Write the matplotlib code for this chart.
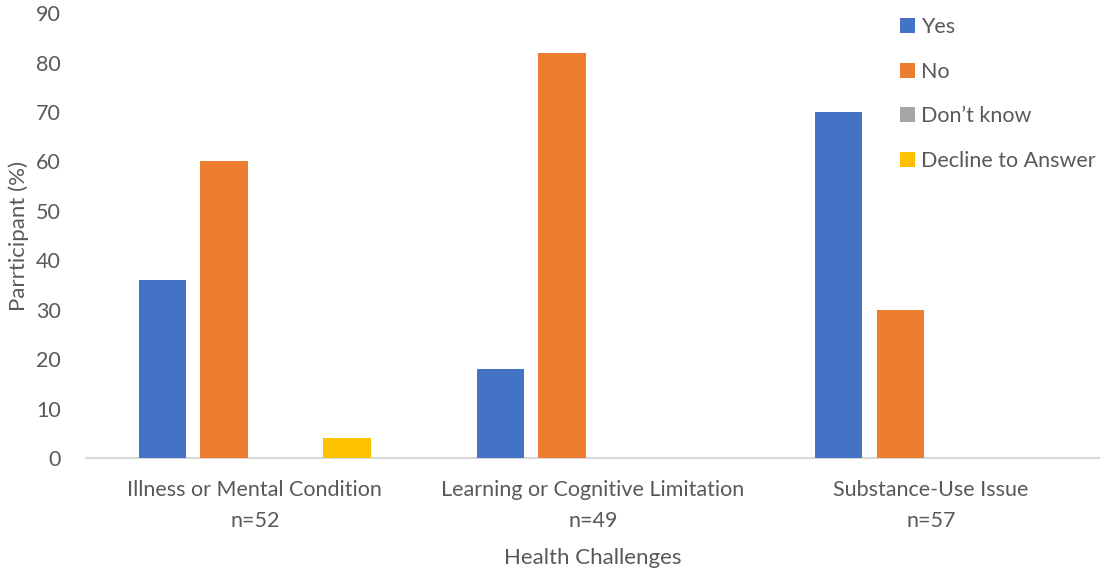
import numpy as np
from matplotlib import pyplot as plt

categories = ['Illness or Mental Condition\nn=52',
              'Learning or Cognitive Limitation\nn=49',
              'Substance-Use Issue\nn=57']
responses = ['Yes', 'No', 'Don\u2019t know', 'Decline to Answer']
yes_vals = [36, 18, 70]
no_vals = [60, 82, 30]
dont_know_vals = [0, 0, 0]
decline_vals = [4, 0, 0]
colors = ['#4472c4', '#ed7d31', '#a5a5a5', '#ffc000']

plt.rcParams['font.family'] = ['Lato', 'DejaVu Sans']
text_color = '#595959'

fig = plt.figure(figsize=(11, 5.69), dpi=100)
ax = fig.add_axes([0.078, 0.195, 0.922, 0.782])

x = np.arange(len(categories))
width = 0.14
step = 0.182
series = [yes_vals, no_vals, dont_know_vals, decline_vals]
for i, (vals, label, col) in enumerate(zip(series, responses, colors)):
    offset = (i - 1.5) * step
    ax.bar(x + offset, vals, width, color=col, label=label, zorder=3)

ax.set_xlim(-0.5, 2.5)
ax.set_ylim(0, 90)
ax.set_yticks(range(0, 91, 10))
ax.set_xticks(x)
ax.set_xticklabels(categories, linespacing=1.7)

for side in ['top', 'right', 'left']:
    ax.spines[side].set_visible(False)
ax.spines['bottom'].set_color('#d9d9d9')
ax.spines['bottom'].set_linewidth(1.5)
ax.tick_params(axis='both', length=0, labelsize=15.5, colors=text_color)
ax.tick_params(axis='x', pad=16)
ax.tick_params(axis='y', pad=18)

ax.set_xlabel('Health Challenges', fontsize=16, color=text_color, labelpad=12)
ax.set_ylabel('Parrticipant (%)', fontsize=16, color=text_color)
ax.yaxis.set_label_coords(-0.056, 0.5)

leg = ax.legend(loc='upper left', bbox_to_anchor=(0.784, 1.035), frameon=False,
                fontsize=15.5, labelspacing=1.15, handlelength=0.7, handleheight=0.7,
                handletextpad=0.25)
for t in leg.get_texts():
    t.set_color(text_color)

fig.savefig('out.png', dpi=100)
